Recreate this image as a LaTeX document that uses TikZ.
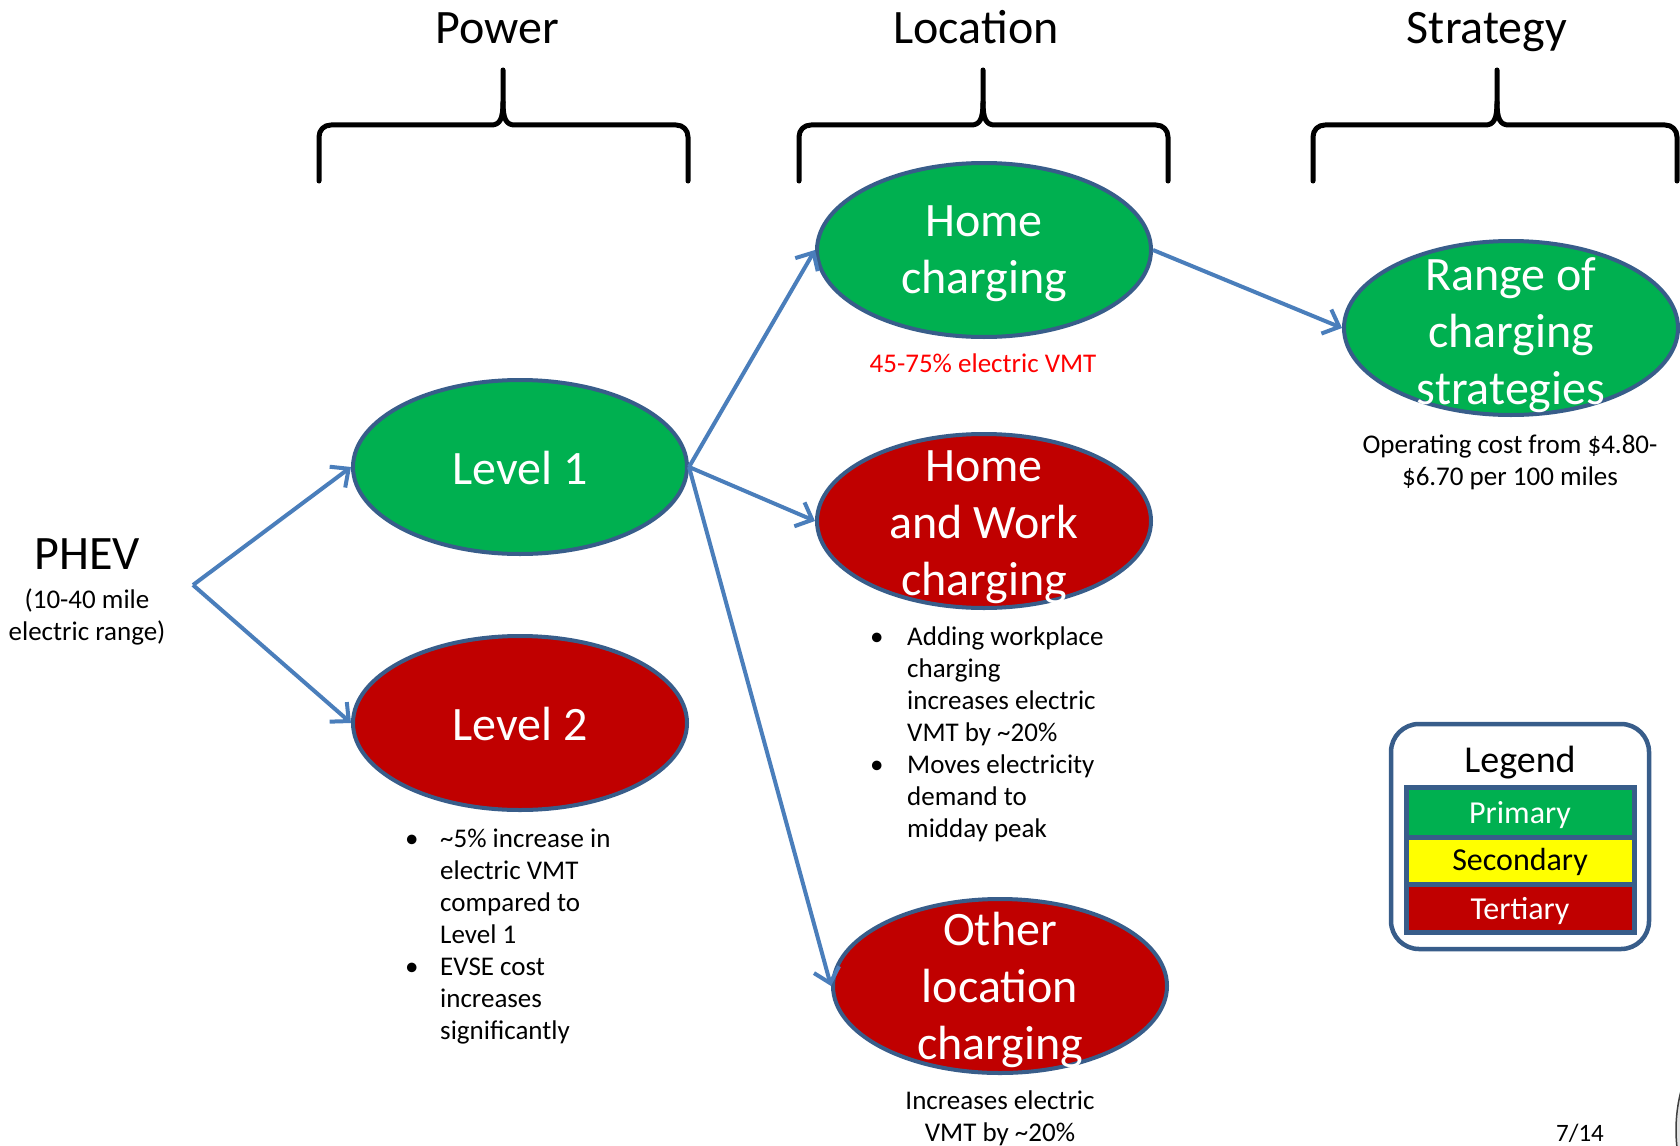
\documentclass[tikz,border=0pt]{standalone}
\usepackage{fontspec}
\setmainfont{Carlito}
\usetikzlibrary{arrows.meta,shapes.geometric}
\definecolor{pgreen}{HTML}{00B050}
\definecolor{tred}{HTML}{C00000}
\definecolor{eborder}{HTML}{385D8A}
\definecolor{arrowblue}{HTML}{4A7EBB}
\definecolor{syellow}{HTML}{FFFF00}
\definecolor{redtext}{HTML}{FF0000}
\newcommand{\mybrace}[3]{%
  \draw[bracestyle] (#1,181) -- (#1,137) .. controls (#1,130) and (#1+5,125) .. (#1+12,125)
    -- (#2-12,125) .. controls (#2-3,125) and (#2,119) .. (#2,102) -- (#2,70);
  \draw[bracestyle] (#2,102) .. controls (#2,119) and (#2+3,125) .. (#2+12,125)
    -- (#3-12,125) .. controls (#3-5,125) and (#3,130) .. (#3,137) -- (#3,181);
}
\begin{document}
\begin{tikzpicture}[x=1pt,y=-1pt,
  ellip/.style={ellipse, draw=eborder, line width=4pt, minimum width=334pt, minimum height=174pt, inner sep=0pt},
  etext/.style={text=white, align=center, font=\fontsize{48}{57}\selectfont, inner sep=0pt},
  title/.style={font=\fontsize{48}{57}\selectfont, anchor=base, inner sep=0pt},
  small/.style={font=\fontsize{27}{32}\selectfont, align=center, inner sep=0pt},
  listnode/.style={font=\fontsize{27}{32}\selectfont, anchor=base west, inner sep=0pt},
  bracestyle/.style={line width=5pt, line cap=round, line join=round},
  conn/.style={draw=arrowblue, line width=4pt, -{Straight Barb[length=14pt,width=26pt]}},
  legbar/.style={draw=eborder, line width=5pt, minimum width=228pt, inner sep=0pt},
  legtext/.style={font=\fontsize{32}{38}\selectfont, anchor=base, inner sep=0pt}
]
\path[use as bounding box, fill=white] (0,0) rectangle (1680,1145);

% titles and braces
\node[title] (tpow) at (497,44) {Power};
\node[title] (tloc) at (976,44) {Location};
\node[title] (tstr) at (1487,44) {Strategy};
\mybrace{319}{503}{688}
\mybrace{799}{983}{1168}
\mybrace{1313}{1497}{1677}

% PHEV
\node[font=\fontsize{48}{57}\selectfont, anchor=base, inner sep=0pt] (phev) at (87,569) {PHEV};
\node[small, anchor=base] (phevsub) at (87,640) {(10-40 mile\\electric range)};
\coordinate (j) at (193,585);

% ellipses
\node[ellip, fill=pgreen] (lvl1) at (520,467) {};
\node[ellip, fill=tred] (lvl2) at (520,723) {};
\node[ellip, fill=pgreen] (home) at (984,250) {};
\node[ellip, fill=tred] (hw) at (984,521) {};
\node[ellip, fill=tred] (oth) at (1000,986) {};
\node[ellip, fill=pgreen] (rng) at (1511,328) {};

\node[etext, yshift=-1pt] (lvl1t) at (lvl1) {Level 1};
\node[etext, yshift=-1pt] (lvl2t) at (lvl2) {Level 2};
\node[etext, yshift=-4pt] (homet) at (home) {Home\\charging};
\node[etext, yshift=-6pt] (hwt) at (hw) {Home\\and Work\\charging};
\node[etext, yshift=-4pt] (otht) at (oth) {Other\\location\\charging};
\node[etext, yshift=-7pt] (rngt) at (rng) {Range of\\charging\\strategies};

% connectors
\draw[conn] (j) -- (lvl1.west);
\draw[conn] (j) -- (lvl2.west);
\draw[conn] (lvl1.east) -- (home.west);
\draw[conn] (lvl1.east) -- (hw.west);
\draw[conn] (lvl1.east) -- (oth.west);
\draw[conn] (home.east) -- (rng.west);

% notes
\node[small, anchor=base, text=redtext] (homenote) at (983,372) {45-75\% electric VMT};
\node[small, anchor=base] (rngnote) at (1510,485) {Operating cost from \$4.80-\\\$6.70 per 100 miles};
\node[small, anchor=base] (othnote) at (1000,1141) {Increases electric\\VMT by \textasciitilde20\%};
\node[listnode] (l2list) at (405,847) {\begin{tabular}[t]{@{}p{35pt}@{}l@{}}
\textbullet & \textasciitilde5\% increase in\\
 & electric VMT\\
 & compared to\\
 & Level 1\\
\textbullet & EVSE cost\\
 & increases\\
 & significantly
\end{tabular}};
\node[listnode] (hwlist) at (870,645) {\begin{tabular}[t]{@{}p{37pt}@{}l@{}}
\textbullet & Adding workplace\\
 & charging\\
 & increases electric\\
 & VMT by \textasciitilde20\%\\
\textbullet & Moves electricity\\
 & demand to\\
 & midday peak
\end{tabular}};

% legend
\node[draw=eborder, line width=4.5pt, rounded corners=28pt, fill=white, minimum width=258pt, minimum height=225pt, inner sep=0pt] (legbox) at (1520,836.5) {};
\node[font=\fontsize{38}{46}\selectfont, anchor=base, inner sep=0pt] (legt) at (1520,772) {Legend};
\node[legbar, fill=pgreen, minimum height=50pt] (prim) at (1520,812) {};
\node[legbar, fill=syellow, minimum height=47pt] (sec) at (1520,860.5) {};
\node[legbar, fill=tred, minimum height=48pt] (ter) at (1520,908) {};
\node[legtext, text=white] (primt) at (1520,823) {Primary};
\node[legtext, text=black] (sect) at (1520,870) {Secondary};
\node[legtext, text=white] (tert) at (1520,919) {Tertiary};

% page number and logo edge
\node[font=\fontsize{25}{30}\selectfont, anchor=base, inner sep=0pt] (pg) at (1580,1141) {7/14};
\begin{scope}
\clip (0,0) rectangle (1680,1145);
\draw[fill=black!12, draw=black!75, line width=1.5pt] (1831,1130) circle[radius=155];
\end{scope}
\end{tikzpicture}
\end{document}
